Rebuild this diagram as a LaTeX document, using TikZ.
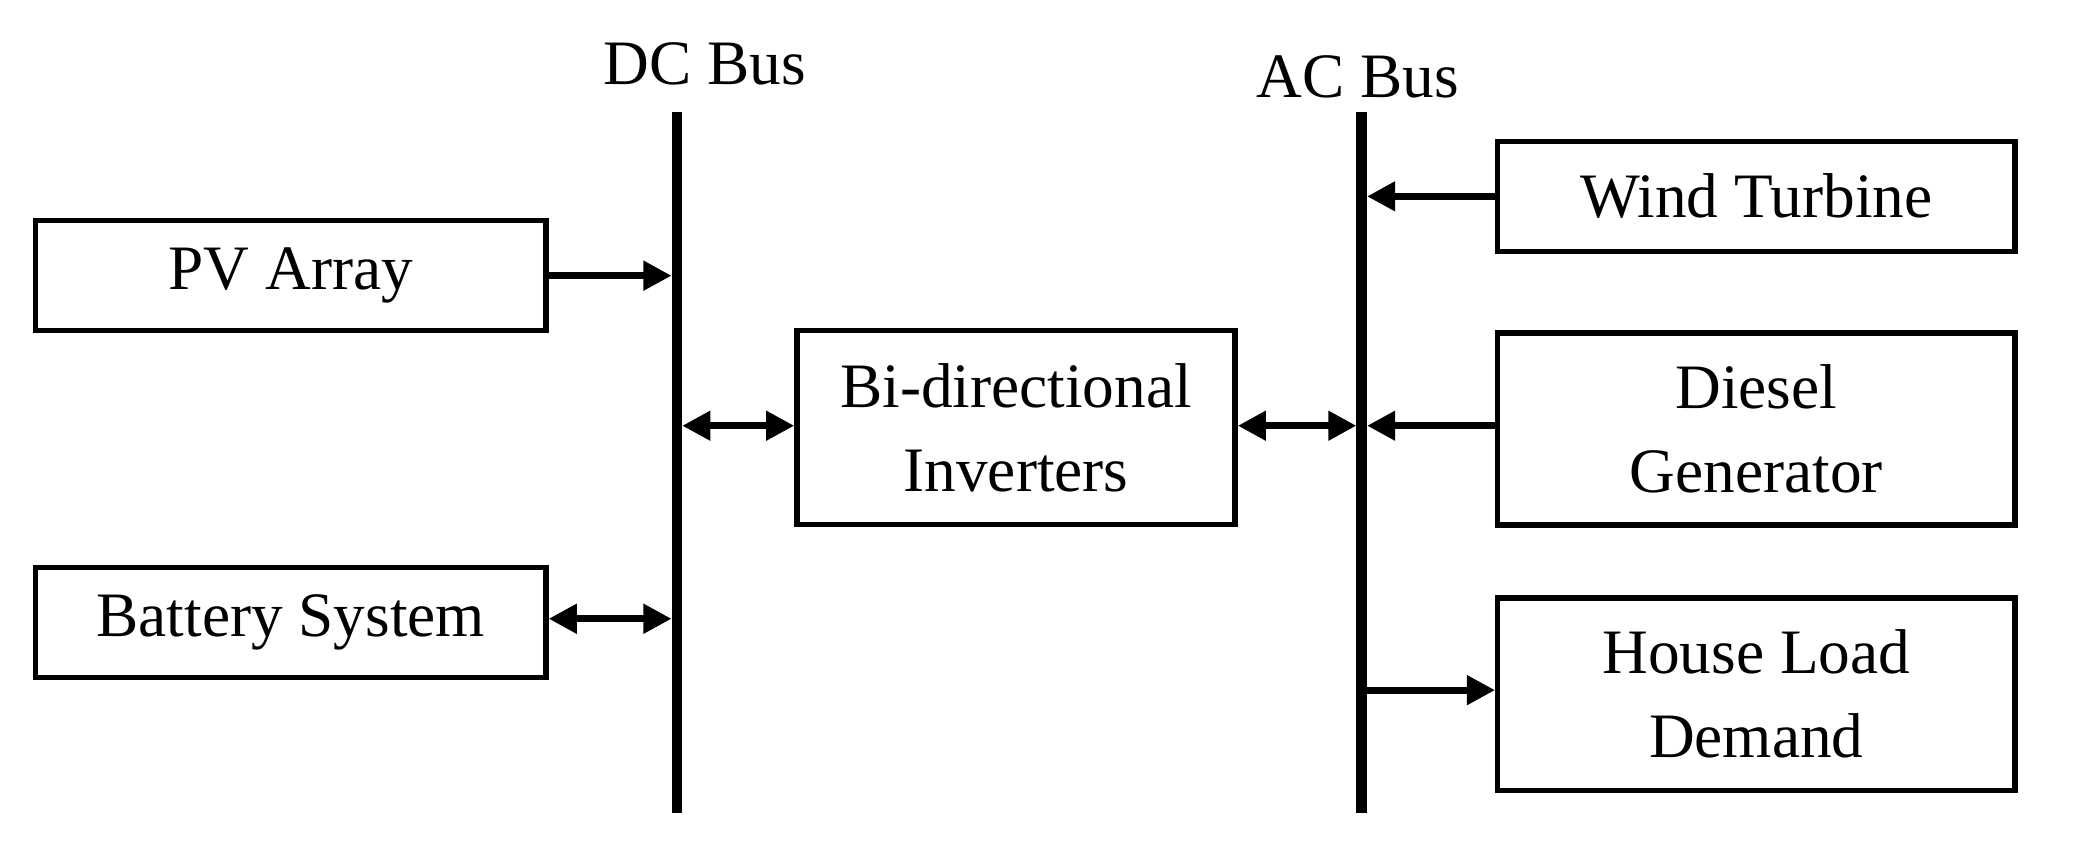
\documentclass[tikz,border=0pt]{standalone}
\usepackage{fontspec}
\setmainfont{Liberation Serif}
\usetikzlibrary{arrows.meta}
\tikzset{
	blk/.style={draw, line width=1.5pt, align=center, font=\fontsize{18}{24}\selectfont},
	bus/.style={line width=3pt},
	link/.style={line width=2pt, -{Triangle[length=8pt,width=8pt]}},
	dlink/.style={line width=2pt, {Triangle[length=8pt,width=8pt]}-{Triangle[length=8pt,width=8pt]}}
}
\begin{document}
\begin{tikzpicture}[x=0.01322cm,y=-0.01322cm]
	\useasboundingbox (0,0) rectangle (1568,640);
	% buses
	\coordinate (dct) at (512,85);
	\coordinate (dcb) at (512,615);
	\coordinate (act) at (1030,85);
	\coordinate (acb) at (1030,615);
	\draw[bus] (dct) -- (dcb);
	\draw[bus] (act) -- (acb);
	\node[font=\fontsize{18}{24}\selectfont] (dclbl) at (533,48) {DC Bus};
	\node[font=\fontsize{18}{24}\selectfont] (aclbl) at (1027,58) {AC Bus};

	% blocks
	\node[blk, minimum width=5.10cm, minimum height=1.10cm] (pv) at (220,208.5) {PV Array};
	\node[blk, minimum width=5.10cm, minimum height=1.10cm] (bat) at (220,471) {Battery System};
	\node[blk, minimum width=4.38cm, minimum height=1.94cm] (inv) at (768.5,323.5) {Bi-directional\\Inverters};
	\node[blk, minimum width=5.17cm, minimum height=1.10cm] (wind) at (1328.5,148.5) {Wind Turbine};
	\node[blk, minimum width=5.17cm, minimum height=1.92cm] (dsl) at (1328.5,324.5) {Diesel\\Generator};
	\node[blk, minimum width=5.17cm, minimum height=1.92cm] (load) at (1328.5,525) {House Load\\Demand};

	% bus taps
	\coordinate (dcpv) at (508,208.5);
	\coordinate (dcbat) at (508,468);
	\coordinate (dcinv) at (516,322);
	\coordinate (acinv) at (1026,322);
	\coordinate (acwind) at (1034,148.5);
	\coordinate (acdsl) at (1034,322);
	\coordinate (acload) at (1034,522);

	\draw[link] (pv.east) -- (dcpv);
	\draw[dlink] (bat.east|-dcbat) -- (dcbat);
	\draw[dlink] (dcinv) -- (inv.west|-dcinv);
	\draw[dlink] (inv.east|-acinv) -- (acinv);
	\draw[link] (wind.west) -- (acwind);
	\draw[link] (dsl.west|-acdsl) -- (acdsl);
	\draw[link] (acload) -- (load.west|-acload);
\end{tikzpicture}
\end{document}
